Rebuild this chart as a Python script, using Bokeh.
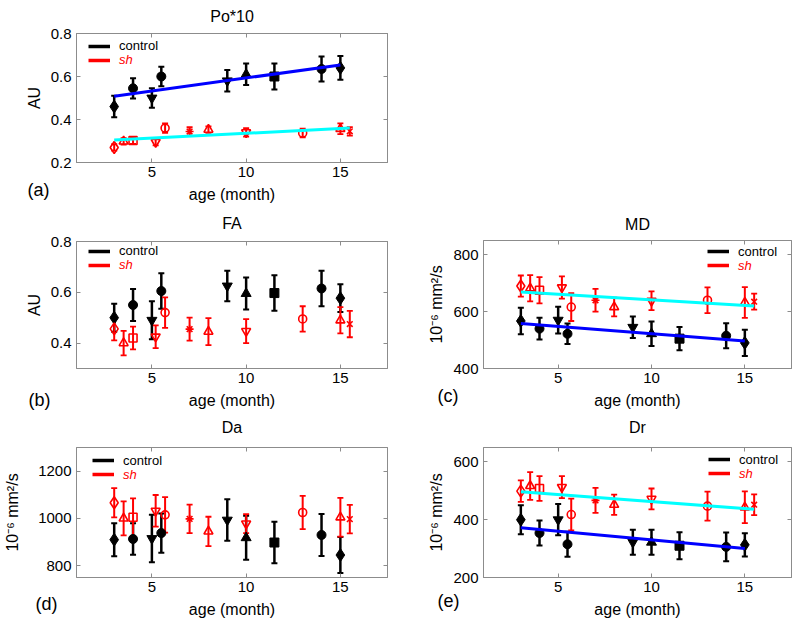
from bokeh.plotting import figure
from bokeh.models import (ColumnDataSource, Whisker, TeeHead, Legend, LegendItem, Title,
                          FixedTicker, LinearAxis, Range1d, Spacer)
from bokeh.layouts import row, column
from bokeh.embed import file_html
from bokeh.resources import INLINE

FONT = "Liberation Sans"
GREY = "#8c8c8c"
NAN = float("nan")

# ---------------- data ----------------
ages_ctrl = [3, 4, 5, 5.5, 9, 10, 11.5, 14, 15]
ages_sh = [3, 3.5, 4, 5.2, 5.7, 7, 8, 10, 13, 15, 15.5]
markers_ctrl = ["diamond", "circle", "inverted_triangle", "circle", "inverted_triangle",
                "triangle", "square", "circle", "diamond"]
markers_sh = ["diamond", "triangle", "square", "inverted_triangle", "circle", "asterisk",
              "triangle", "inverted_triangle", "circle", "triangle", "x"]

x_ticks = [5, 10, 15]

# Po*10
po_ctrl = [0.46, 0.545, 0.50, 0.60, 0.58, 0.61, 0.60, 0.635, 0.64]
po_ctrl_err = [0.05, 0.047, 0.045, 0.045, 0.05, 0.05, 0.06, 0.058, 0.055]
po_sh = [0.27, 0.298, 0.302, 0.295, 0.36, 0.344, 0.353, 0.34, 0.337, 0.357, 0.345]
po_sh_err = [0.015, 0.015, 0.015, 0.015, 0.022, 0.02, 0.015, 0.02, 0.02, 0.025, 0.02]
po_fit_ctrl = [0.508, 0.654]
po_fit_sh = [0.305, 0.36]
po_ticks = [0.2, 0.4, 0.6, 0.8]

# FA
fa_ctrl = [0.50, 0.55, 0.49, 0.605, 0.625, 0.595, 0.597, 0.615, 0.577]
fa_ctrl_err = [0.055, 0.063, 0.075, 0.07, 0.06, 0.063, 0.07, 0.07, 0.055]
fa_sh = [0.456, 0.40, 0.42, 0.425, 0.52, 0.455, 0.445, 0.447, 0.495, 0.49, 0.475]
fa_sh_err = [0.045, 0.048, 0.045, 0.045, 0.06, 0.045, 0.053, 0.047, 0.05, 0.052, 0.052]
fa_ticks = [0.4, 0.6, 0.8]

# MD
md_ctrl = [567, 540, 570, 522, 545, 522, 505, 515, 490]
md_ctrl_err = [47, 38, 47, 36, 38, 43, 41, 44, 46]
md_sh = [690, 682, 675, 685, 616, 640, 616, 638, 640, 632, 635]
md_sh_err = [37, 46, 46, 39, 49, 40, 33, 33, 45, 54, 28]
md_fit_ctrl = [558, 497]
md_fit_sh = [669, 620]
md_ticks = [400, 600, 800]

# Da
da_ctrl = [910, 913, 915, 938, 993, 918, 898, 930, 845]
da_ctrl_err = [70, 67, 100, 83, 88, 93, 88, 89, 76]
da_sh = [1066, 1000, 1005, 1032, 1015, 998, 945, 978, 1025, 1005, 997]
da_sh_err = [62, 72, 80, 67, 75, 60, 62, 40, 70, 82, 60]
da_ticks = [800, 1000, 1200]

# Dr
dr_ctrl = [400, 354, 400, 315, 322, 322, 310, 306, 313]
dr_ctrl_err = [50, 43, 54, 43, 43, 43, 47, 50, 40]
dr_sh = [499, 517, 508, 513, 418, 467, 452, 472, 447, 443, 452]
dr_sh_err = [37, 48, 43, 38, 55, 43, 35, 36, 50, 55, 36]
dr_fit_ctrl = [372, 300]
dr_fit_sh = [497, 436]
dr_ticks = [200, 400, 600]

fit_x_ctrl = [3, 15]
fit_x_sh = [3, 15.5]

XLO, XHI = 1, 17.5
UNIT = "10\u207b\u2076 mm\u00b2/s"

SIZE_CTRL = {"diamond": 13, "circle": 9, "inverted_triangle": 10, "triangle": 10, "square": 9}
SIZE_SH = {"diamond": 12, "circle": 8, "inverted_triangle": 9, "triangle": 9, "square": 8,
           "asterisk": 8, "x": 8}


def make_panel(title, ylabel, ylo, yhi, yticks, cy, ce, sy, se, fcy, fsy,
               plabel, plabel_off, leg_x, leg_c, width, height, borders, ylab_standoff,
               title_gap):
    bl, br, bt, bb = borders
    frame_h = height - bt - bb
    p = figure(width=width, height=height, x_range=Range1d(XLO, XHI),
               y_range=Range1d(ylo, yhi), output_backend="svg", toolbar_location=None,
               min_border_left=bl, min_border_right=br, min_border_top=bt,
               min_border_bottom=bb)
    p.xgrid.visible = False
    p.ygrid.visible = False
    p.outline_line_color = GREY
    p.background_fill_color = "white"

    p.title.text = title
    p.title.align = "center"
    p.title.text_font = FONT
    p.title.text_font_size = "16px"
    p.title.text_font_style = "normal"
    p.title.text_color = "black"
    p.title.standoff = 0

    for ax, ticks in ((p.xaxis[0], x_ticks), (p.yaxis[0], yticks)):
        ax.ticker = FixedTicker(ticks=ticks)
        ax.major_tick_in = 4
        ax.major_tick_out = 0
        ax.minor_tick_line_color = None
        ax.axis_line_color = GREY
        ax.major_tick_line_color = GREY
        ax.major_label_text_font = FONT
        ax.major_label_text_font_size = "15px"
        ax.major_label_text_color = "black"
        ax.axis_label_text_font = FONT
        ax.axis_label_text_font_size = "16px"
        ax.axis_label_text_font_style = "normal"
        ax.axis_label_text_color = "black"
    p.xaxis[0].axis_label = "age (month)"
    p.xaxis[0].major_label_standoff = 4
    p.xaxis[0].axis_label_standoff = 6
    p.yaxis[0].axis_label = ylabel
    p.yaxis[0].major_label_standoff = 5
    p.yaxis[0].axis_label_standoff = ylab_standoff

    # box ticks on the top and right edges (no labels)
    for loc, ticks in (("above", x_ticks), ("right", yticks)):
        ax = LinearAxis(ticker=FixedTicker(ticks=ticks), major_tick_in=4, major_tick_out=0,
                        minor_tick_line_color=None, axis_line_color=GREY,
                        major_tick_line_color=GREY, major_label_text_font_size="1px",
                        major_label_text_color=None, major_label_standoff=0)
        p.add_layout(ax, loc)
    # invisible spacer between the frame and the title
    gap_axis = LinearAxis(ticker=FixedTicker(ticks=x_ticks), major_tick_in=0,
                          major_tick_out=title_gap, major_tick_line_color=None,
                          minor_tick_line_color=None, axis_line_color=None,
                          major_label_text_font_size="1px", major_label_text_color=None,
                          major_label_standoff=0)
    p.add_layout(gap_axis, "above")

    src_c = ColumnDataSource(dict(x=ages_ctrl, y=cy, m=markers_ctrl,
                                  s=[SIZE_CTRL[m] for m in markers_ctrl],
                                  lo=[v - e for v, e in zip(cy, ce)],
                                  hi=[v + e for v, e in zip(cy, ce)]))
    src_s = ColumnDataSource(dict(x=ages_sh, y=sy, m=markers_sh,
                                  s=[SIZE_SH[m] for m in markers_sh],
                                  lo=[v - e for v, e in zip(sy, se)],
                                  hi=[v + e for v, e in zip(sy, se)]))

    p.add_layout(Whisker(base="x", lower="lo", upper="hi", source=src_c, dimension="height",
                         line_color="black", line_width=2.5,
                         upper_head=TeeHead(size=6, line_color="black", line_width=2),
                         lower_head=TeeHead(size=6, line_color="black", line_width=2)))
    p.scatter(x="x", y="y", marker="m", size="s", source=src_c, fill_color="black",
              line_color="black", line_width=1)
    p.add_layout(Whisker(base="x", lower="lo", upper="hi", source=src_s, dimension="height",
                         line_color="red", line_width=2,
                         upper_head=TeeHead(size=6, line_color="red", line_width=1.8),
                         lower_head=TeeHead(size=6, line_color="red", line_width=1.8)))
    p.scatter(x="x", y="y", marker="m", size="s", source=src_s, fill_color=None,
              line_color="red", line_width=1.6)

    if fcy is not None:
        p.line(x=fit_x_ctrl, y=fcy, line_color="#0000ff", line_width=3)
        p.line(x=fit_x_sh, y=fsy, line_color="#00ffff", line_width=3)

    # legend keys (no data points; only the legend swatch is drawn)
    rc = p.line(x=[NAN], y=[NAN], line_color="black", line_width=3.5)
    rs = p.line(x=[NAN], y=[NAN], line_color="red", line_width=3.5)
    for r, lab, col, style, c in ((rc, "control", "black", "normal", leg_c[0]),
                                 (rs, "sh", "red", "italic", leg_c[1])):
        lg = Legend(items=[LegendItem(label=lab, renderers=[r])],
                    location=(leg_x, frame_h - c - 7),
                    glyph_width=22, glyph_height=10, label_height=10, label_standoff=9,
                    padding=0, margin=0, spacing=0, border_line_color=None,
                    background_fill_alpha=0, label_text_font=FONT,
                    label_text_font_size="13px", label_text_color=col,
                    label_text_font_style=style)
        p.add_layout(lg)

    t = Title(text=plabel, align="left", vertical_align="top", text_font=FONT,
              text_font_size="18px", text_font_style="normal", text_color="black")
    t.offset = plabel_off[0]
    t.standoff = plabel_off[1]
    p.add_layout(t, "below")
    return p


pa = make_panel("Po*10", "AU", 0.2, 0.8, po_ticks, po_ctrl, po_ctrl_err, po_sh, po_sh_err,
                po_fit_ctrl, po_fit_sh, "(a)", (-49, -52), 12, (13, 27),
                408, 210, (76, 21, 33, 48), 5, 9)
pb = make_panel("FA", "AU", 0.3, 0.8, fa_ticks, fa_ctrl, fa_ctrl_err, fa_sh, fa_sh_err,
                None, None, "(b)", (-48, -44), 12, (10, 24),
                408, 205, (76, 21, 31, 47), 5, 10)
pd = make_panel("Da", UNIT, 750, 1300, da_ticks, da_ctrl, da_ctrl_err, da_sh, da_sh_err,
                None, None, "(d)", (-41, -53), 16, (13.5, 27.5),
                408, 208, (76, 21, 32, 46), 14, 12)
pc = make_panel("MD", UNIT, 400, 850, md_ticks, md_ctrl, md_ctrl_err, md_sh, md_sh_err,
                md_fit_ctrl, md_fit_sh, "(c)", (-46, -52), 224, (11.5, 25.5),
                392, 205, (75, 9, 30, 47), 5, 8)
pe = make_panel("Dr", UNIT, 200, 650, dr_ticks, dr_ctrl, dr_ctrl_err, dr_sh, dr_sh_err,
                dr_fit_ctrl, dr_fit_sh, "(e)", (-46, -59), 225, (12.5, 26.5),
                392, 208, (75, 9, 32, 46), 5, 12)

layout = row(column(pa, pb, pd), column(Spacer(width=392, height=210), pc, pe))

with open("out.html", "w") as f:
    f.write(file_html(layout, INLINE))
